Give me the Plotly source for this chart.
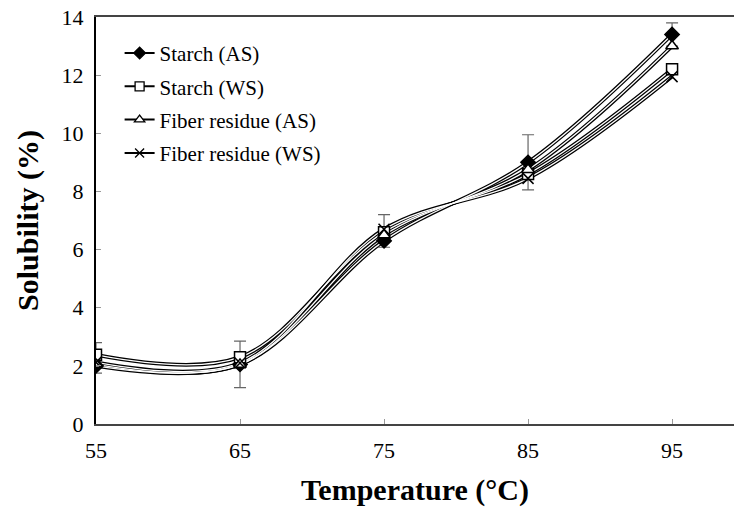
import plotly.graph_objects as go

temperature = [55, 65, 75, 85, 95]
starch_as = [2.0, 2.05, 6.3, 9.0, 13.4]
starch_ws = [2.38, 2.3, 6.6, 8.6, 12.2]
fiber_as = [2.05, 2.05, 6.5, 8.75, 13.0]
fiber_ws = [2.12, 2.1, 6.7, 8.45, 11.95]
err_plus = [0.8, 0.8, 0.9, 0.95, 0.4]
err_minus = [0.25, 0.8, 0.22, 0.95, 0.4]
x_ticks = [55, 65, 75, 85, 95]
y_ticks = [0, 2, 4, 6, 8, 10, 12, 14]

series = [
    ("Starch (AS)", starch_as, "diamond", "black"),
    ("Starch (WS)", starch_ws, "square", "white"),
    ("Fiber residue (AS)", fiber_as, "triangle-up", "white"),
    ("Fiber residue (WS)", fiber_ws, "x-thin", "black"),
]

fig = go.Figure()
# Hollow-looking smoothed lines: thick black under thin white
for name, ys, sym, fill in series:
    fig.add_trace(go.Scatter(x=temperature, y=ys, mode="lines",
                             line=dict(color="black", width=3.8, shape="spline", smoothing=1.0),
                             showlegend=False, hoverinfo="skip"))
for name, ys, sym, fill in series:
    fig.add_trace(go.Scatter(x=temperature, y=ys, mode="lines",
                             line=dict(color="white", width=1.3, shape="spline", smoothing=1.0),
                             showlegend=False, hoverinfo="skip"))
# markers (and error bars)
for i, (name, ys, sym, fill) in enumerate(series):
    kw = {}
    if i == 0:
        kw["error_y"] = dict(type="data", symmetric=False, array=err_plus, arrayminus=err_minus,
                             color="#666", thickness=1.2, width=6)
    fig.add_trace(go.Scatter(x=temperature, y=ys, mode="markers",
                             marker=dict(symbol=sym, size=11, color=fill,
                                         line=dict(color="black", width=1.5)),
                             showlegend=False, **kw))
# legend entries
for i, (name, ys, sym, fill) in enumerate(series):
    fig.add_trace(go.Scatter(x=[None], y=[None], mode="lines+markers", name=name,
                             legendgroup=f"g{i}",
                             line=dict(color="black", width=2),
                             marker=dict(symbol=sym, size=9, color=fill,
                                         line=dict(color="black", width=1.3))))

font_family = "Liberation Serif, Times New Roman, serif"
fig.update_layout(
    width=734, height=507,
    margin=dict(l=96, r=0, t=17, b=83, autoexpand=False),
    plot_bgcolor="white", paper_bgcolor="white",
    font=dict(family=font_family, color="black", size=21),
    legend=dict(x=0.037, y=0.961, xanchor="left", yanchor="top",
                font=dict(family=font_family, size=21, color="black"),
                bgcolor="rgba(0,0,0,0)", tracegroupgap=3),
    xaxis=dict(range=[55, 99.3], tickvals=x_ticks, automargin=False,
               showgrid=False, zeroline=False,
               showline=True, linecolor="#444", linewidth=2, mirror=True,
               ticks="inside", ticklen=5, tickcolor="#999",
               ticklabelstandoff=6,
               tickfont=dict(family=font_family, size=22),
               title=dict(text="<b>Temperature (°C)</b>", font=dict(family=font_family, size=30), standoff=18)),
    yaxis=dict(range=[0, 14], tickvals=y_ticks, automargin=False,
               showgrid=False, zeroline=False,
               showline=True, linecolor="black", linewidth=2,
               ticks="inside", ticklen=5, tickcolor="#999",
               ticklabelstandoff=6,
               tickfont=dict(family=font_family, size=22),
               title=dict(text="<b>Solubility (%)</b>", font=dict(family=font_family, size=30), standoff=14)),
)
fig.write_html("out.html", config={"displayModeBar": False},
               post_script="document.body.style.margin='0';document.body.style.overflow='hidden';")
